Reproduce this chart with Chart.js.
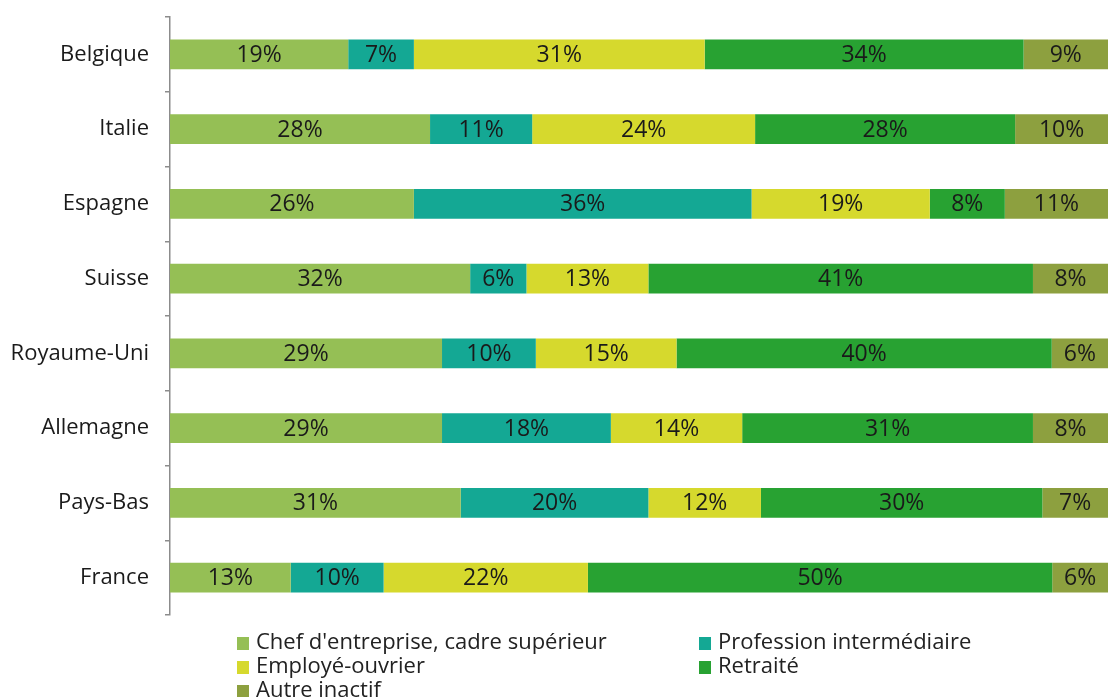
<!DOCTYPE html>
<html>
<head>
<meta charset="utf-8">
<script src="https://cdn.jsdelivr.net/npm/chart.js@4"></script>
<style>
  html, body { margin: 0; padding: 0; background: #fff; }
  #wrap { position: relative; width: 1108px; height: 697px; overflow: hidden; }
  #legend { position: absolute; left: 0; top: 0; font-family: "Open Sans", sans-serif; font-size: 22px; color: #222; }
  .item { position: absolute; white-space: nowrap; line-height: 24px; }
  .item span.box { display: inline-block; width: 12px; height: 13px; margin-right: 7px; vertical-align: -1px; }
</style>
</head>
<body>
<div id="wrap">
  <canvas id="chart" width="1108" height="697"></canvas>
  <div id="legend"></div>
</div>
<script>
// catégories (pays)
const categories = ['Belgique', 'Italie', 'Espagne', 'Suisse', 'Royaume-Uni', 'Allemagne', 'Pays-Bas', 'France'];

// séries (en %)
const chefEntreprise = [19, 28, 26, 32, 29, 29, 31, 13];
const professionInter = [7, 11, 36, 6, 10, 18, 20, 10];
const employeOuvrier = [31, 24, 19, 13, 15, 14, 12, 22];
const retraite = [34, 28, 8, 41, 40, 31, 30, 50];
const autreInactif = [9, 10, 11, 8, 6, 8, 7, 6];

const seriesNames = ["Chef d'entreprise, cadre supérieur", 'Profession intermédiaire', 'Employé-ouvrier', 'Retraité', 'Autre inactif'];
const seriesColors = ['#95bf55', '#14a894', '#d6d92d', '#28a232', '#8da03f'];
const seriesValues = [chefEntreprise, professionInter, employeOuvrier, retraite, autreInactif];

const FONT = '"Open Sans", sans-serif';

// total par pays, pour ramener chaque barre à 100%
const rowTotals = categories.map((c, i) => seriesValues.reduce((s, arr) => s + arr[i], 0));

const datasets = seriesValues.map((vals, k) => ({
    label: seriesNames[k],
    data: vals.map((v, i) => v / rowTotals[i] * 100),
    raw: vals,
    backgroundColor: seriesColors[k],
    borderWidth: 0,
    barPercentage: 1,
    categoryPercentage: 0.4
}));

// étiquettes au centre de chaque segment
const labelPlugin = {
    id: 'segLabels',
    afterDatasetsDraw(chart) {
        const ctx = chart.ctx;
        ctx.save();
        ctx.font = '23px ' + FONT;
        ctx.fillStyle = '#1a1a1a';
        ctx.textAlign = 'center';
        ctx.textBaseline = 'middle';
        chart.data.datasets.forEach((ds, k) => {
            const meta = chart.getDatasetMeta(k);
            meta.data.forEach((el, i) => {
                const cx = (el.x + el.base) / 2;
                ctx.fillText(ds.raw[i] + '%', cx, el.y + 1);
            });
        });
        ctx.restore();
    }
};

const chart = new Chart(document.getElementById('chart'), {
    type: 'bar',
    data: { labels: categories, datasets: datasets },
    options: {
        indexAxis: 'y',
        responsive: false,
        animation: false,
        layout: { padding: { top: 17, bottom: 82, left: 0, right: 0 } },
        plugins: {
            legend: { display: false },
            tooltip: { enabled: false }
        },
        scales: {
            x: { stacked: true, min: 0, max: 100, display: false },
            y: {
                stacked: true,
                afterFit(scale) {
                    scale.width = 170;
                    scale.paddingTop = 0;
                    scale.paddingBottom = 0;
                },
                grid: {
                    offset: true,
                    drawOnChartArea: false,
                    drawTicks: true,
                    tickLength: 5,
                    color: '#8c8c8c',
                    lineWidth: 1.5
                },
                border: { display: true, color: '#8c8c8c', width: 1.5 },
                ticks: {
                    color: '#1a1a1a',
                    padding: 16,
                    font: { family: FONT, size: 22 }
                }
            }
        }
    },
    plugins: [labelPlugin]
});

// légende en deux colonnes
const legendEl = document.getElementById('legend');
const legendPos = [[237, 628], [699, 628], [237, 652], [699, 652], [237, 676]];
seriesNames.forEach((name, k) => {
    const item = document.createElement('div');
    item.className = 'item';
    item.style.left = legendPos[k][0] + 'px';
    item.style.top = legendPos[k][1] + 'px';
    item.innerHTML = '<span class="box" style="background:' + seriesColors[k] + '"></span>' + name;
    legendEl.appendChild(item);
});
</script>
</body>
</html>
